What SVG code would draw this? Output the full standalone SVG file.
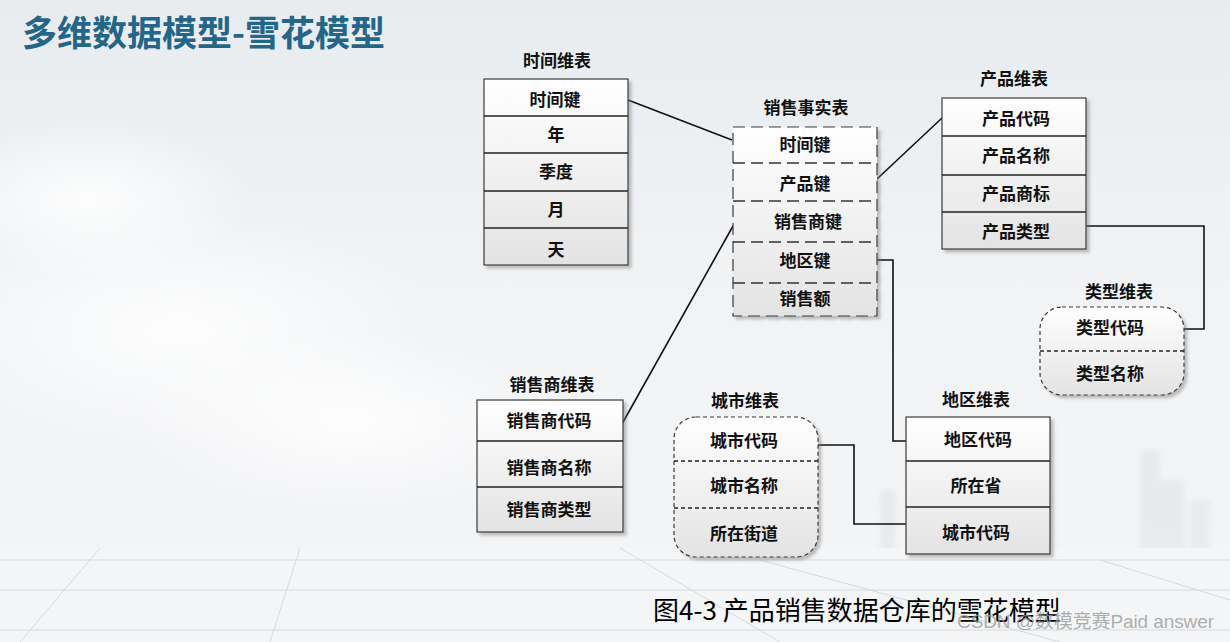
<svg xmlns="http://www.w3.org/2000/svg" width="1230" height="642" viewBox="0 0 1230 642">
<defs>
<linearGradient id="bg" x1="0" y1="0" x2="0" y2="1">
<stop offset="0" stop-color="#e8ecef"/>
<stop offset="0.45" stop-color="#f1f3f5"/>
<stop offset="0.85" stop-color="#f3f4f5"/>
<stop offset="1" stop-color="#eceeef"/>
</linearGradient>
<radialGradient id="cloud" cx="0.5" cy="0.5" r="0.5">
<stop offset="0" stop-color="#ffffff" stop-opacity="0.85"/>
<stop offset="1" stop-color="#ffffff" stop-opacity="0"/>
</radialGradient>
<linearGradient id="tbl" x1="0" y1="0" x2="0" y2="1">
<stop offset="0" stop-color="#ffffff"/>
<stop offset="1" stop-color="#e3e3e3"/>
</linearGradient>
<filter id="sh" x="-10%" y="-10%" width="130%" height="130%">
<feDropShadow dx="3" dy="3" stdDeviation="1.5" flood-color="#777" flood-opacity="0.45"/>
</filter>
<filter id="blur"><feGaussianBlur stdDeviation="2.5"/></filter>
<style>
.box{fill:url(#tbl);stroke:#3a3a3a;stroke-width:1.2;filter:url(#sh)}
.dbox{fill:url(#tbl);stroke:#3a3a3a;stroke-width:1.2;stroke-dasharray:12 6;filter:url(#sh)}
.rbox{fill:url(#tbl);stroke:#3a3a3a;stroke-width:1.2;stroke-dasharray:4 3;filter:url(#sh)}
.div{stroke:#222;stroke-width:1.5}
.ddiv{stroke:#333;stroke-width:1.3;stroke-dasharray:12 6}
.rdiv{stroke:#222;stroke-width:1.3;stroke-dasharray:4 3}
.t{font-family:"Noto Sans CJK SC","Noto Sans",sans-serif;font-weight:bold;font-size:17px;fill:#111;text-anchor:middle}
.cn{fill:none;stroke:#111;stroke-width:1.6}
.floor{stroke:#d6d9dc;stroke-width:1;fill:none}
</style>
</defs>
<rect width="1230" height="642" fill="url(#bg)"/>
<ellipse cx="180" cy="330" rx="260" ry="120" fill="url(#cloud)"/>
<ellipse cx="90" cy="200" rx="160" ry="80" fill="url(#cloud)"/>
<ellipse cx="350" cy="420" rx="220" ry="90" fill="url(#cloud)"/>
<g opacity="0.18" fill="#b8c2cc" filter="url(#blur)">
<rect x="1020" y="470" width="18" height="80"/>
<rect x="1040" y="440" width="14" height="110"/>
<rect x="1140" y="450" width="20" height="100"/>
<rect x="1160" y="480" width="25" height="70"/>
<rect x="1190" y="500" width="20" height="50"/>
<rect x="880" y="490" width="16" height="60"/>
<rect x="960" y="500" width="20" height="50"/>
</g>
<rect x="0" y="548" width="1230" height="94" fill="#f4f5f6"/>
<g class="floor">
<line x1="0" y1="560" x2="1230" y2="560"/>
<line x1="0" y1="590" x2="1230" y2="590"/>
<line x1="0" y1="630" x2="1230" y2="630"/>
<line x1="100" y1="548" x2="20" y2="642"/>
<line x1="300" y1="548" x2="270" y2="642"/>
<line x1="620" y1="548" x2="780" y2="642"/>
<line x1="760" y1="560" x2="1060" y2="642"/>
<line x1="1100" y1="560" x2="1230" y2="600"/>
</g>
<text x="22" y="46" font-family="'Noto Sans CJK SC','Noto Sans',sans-serif" font-weight="bold" font-size="35" fill="#22668a">多维数据模型-雪花模型</text>
<g id="connectors">
<line class="cn" x1="628" y1="100" x2="732" y2="140"/>
<line class="cn" x1="877" y1="179" x2="942" y2="118"/>
<line class="cn" x1="733" y1="226" x2="622" y2="424"/>
<polyline class="cn" points="877,260 893,260 893,441 906,441"/>
<polyline class="cn" points="1086,226 1204,226 1204,329 1184,329"/>
<polyline class="cn" points="818,445 854,445 854,524 906,524"/>
</g>
<g id="time">
<text class="t" x="557" y="67">时间维表</text>
<rect class="box" x="484" y="79" width="144" height="186"/>
<line class="div" x1="484" y1="116" x2="628" y2="116"/>
<line class="div" x1="484" y1="153" x2="628" y2="153"/>
<line class="div" x1="484" y1="191" x2="628" y2="191"/>
<line class="div" x1="484" y1="228" x2="628" y2="228"/>
<text class="t" x="555" y="106">时间键</text>
<text class="t" x="556" y="141">年</text>
<text class="t" x="556" y="178">季度</text>
<text class="t" x="556" y="216">月</text>
<text class="t" x="556" y="256">天</text>
</g>
<g id="fact">
<text class="t" x="806" y="114">销售事实表</text>
<rect class="dbox" x="733" y="127" width="144" height="189"/>
<line class="ddiv" x1="733" y1="163" x2="877" y2="163"/>
<line class="ddiv" x1="733" y1="201" x2="877" y2="201"/>
<line class="ddiv" x1="733" y1="242" x2="877" y2="242"/>
<line class="ddiv" x1="733" y1="283" x2="877" y2="283"/>
<text class="t" x="805" y="151">时间键</text>
<text class="t" x="805" y="190">产品键</text>
<text class="t" x="808" y="228">销售商键</text>
<text class="t" x="805" y="267">地区键</text>
<text class="t" x="805" y="305">销售额</text>
</g>
<g id="product">
<text class="t" x="1014" y="85">产品维表</text>
<rect class="box" x="942" y="98" width="144" height="151"/>
<line class="div" x1="942" y1="136" x2="1086" y2="136"/>
<line class="div" x1="942" y1="175" x2="1086" y2="175"/>
<line class="div" x1="942" y1="212" x2="1086" y2="212"/>
<text class="t" x="1016" y="125">产品代码</text>
<text class="t" x="1016" y="162">产品名称</text>
<text class="t" x="1016" y="200">产品商标</text>
<text class="t" x="1016" y="238">产品类型</text>
</g>
<g id="type">
<text class="t" x="1119" y="298">类型维表</text>
<rect class="rbox" x="1040" y="307" width="144" height="88" rx="22" ry="22"/>
<line class="rdiv" x1="1040" y1="351" x2="1184" y2="351"/>
<text class="t" x="1110" y="334">类型代码</text>
<text class="t" x="1110" y="380">类型名称</text>
</g>
<g id="region">
<text class="t" x="976" y="406">地区维表</text>
<rect class="box" x="906" y="417" width="144" height="137"/>
<line class="div" x1="906" y1="461" x2="1050" y2="461"/>
<line class="div" x1="906" y1="507" x2="1050" y2="507"/>
<text class="t" x="978" y="446">地区代码</text>
<text class="t" x="976" y="492">所在省</text>
<text class="t" x="976" y="539">城市代码</text>
</g>
<g id="city">
<text class="t" x="745" y="407">城市维表</text>
<rect class="rbox" x="674" y="417" width="144" height="140" rx="22" ry="22"/>
<line class="rdiv" x1="674" y1="461" x2="818" y2="461"/>
<line class="rdiv" x1="674" y1="508" x2="818" y2="508"/>
<text class="t" x="744" y="447">城市代码</text>
<text class="t" x="744" y="492">城市名称</text>
<text class="t" x="744" y="540">所在街道</text>
</g>
<g id="dealer">
<text class="t" x="552" y="391">销售商维表</text>
<rect class="box" x="477" y="400" width="146" height="132"/>
<line class="div" x1="477" y1="441" x2="623" y2="441"/>
<line class="div" x1="477" y1="487" x2="623" y2="487"/>
<text class="t" x="549" y="427">销售商代码</text>
<text class="t" x="549" y="474">销售商名称</text>
<text class="t" x="549" y="516">销售商类型</text>
</g>
<text x="653" y="620" font-family="'Noto Sans CJK SC','Noto Sans',sans-serif" font-size="26" fill="#000">图4-3 产品销售数据仓库的雪花模型</text>
<text x="957" y="628" font-family="'Liberation Sans','Noto Sans CJK SC',sans-serif" font-size="19" fill="#9a9a9a" fill-opacity="0.8" textLength="257">CSDN @数模竞赛Paid answer</text>
</svg>
